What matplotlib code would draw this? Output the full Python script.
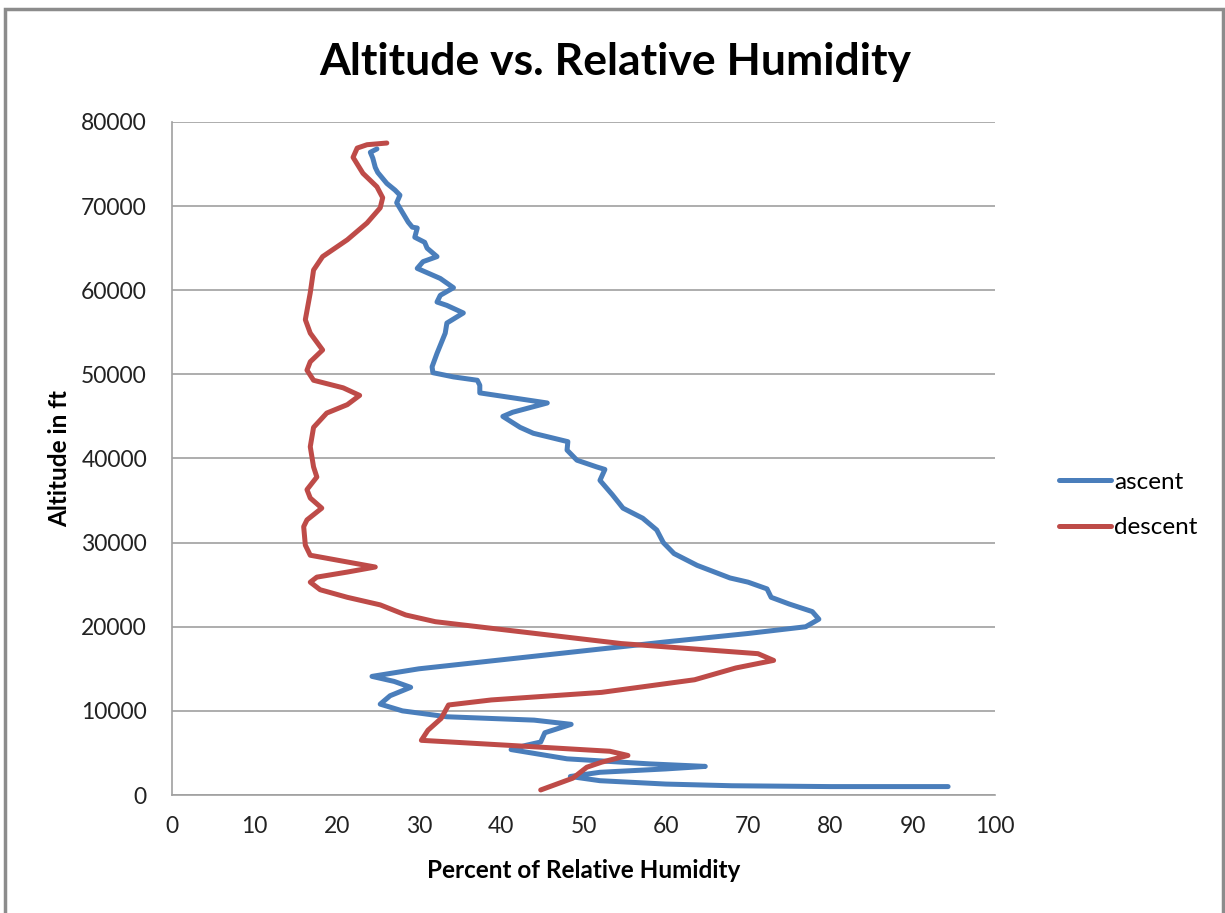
import matplotlib.pyplot as plt
from matplotlib.patches import Rectangle

# ascent: (relative humidity %, altitude ft), bottom to top
ascent_rh = [94.3, 80.0, 68.0, 60.0, 52.0, 48.4, 52.0, 60.0, 64.8, 58.0, 48.0, 41.2, 43.0, 44.8,
             45.3, 48.5, 44.0, 33.4, 28.0, 25.3, 26.5, 29.0, 27.0, 24.3, 30.0, 45.0, 60.0, 70.0,
             77.0, 78.6, 77.8, 75.0, 72.8, 72.3, 70.0, 67.8, 63.8, 61.0, 59.7, 58.9, 57.2, 54.8,
             53.5, 52.0, 52.6, 51.6, 49.2, 48.0, 48.1, 43.9, 42.3, 40.2, 41.4, 45.6, 41.5, 37.4,
             37.4, 37.1, 34.2, 31.7, 31.6, 32.2, 33.2, 33.4, 35.4, 33.4, 32.2, 32.6, 34.2, 32.6,
             29.8, 30.5, 32.2, 31.0, 30.7, 29.5, 29.8, 29.2, 28.7, 27.3, 27.7, 27.1, 26.1, 25.0,
             24.7, 24.4, 24.1, 24.9]
ascent_alt = [1000, 1000, 1100, 1300, 1700, 2200, 2700, 3100, 3400, 3700, 4300, 5400, 5900, 6300,
              7400, 8400, 8900, 9300, 10000, 10800, 11800, 12800, 13500, 14100, 15000, 16600, 18200, 19200,
              20000, 20900, 21800, 22700, 23500, 24500, 25300, 25800, 27300, 28700, 30000, 31500, 32900, 34100,
              35700, 37400, 38700, 39000, 39800, 41000, 42000, 43000, 43700, 45000, 45500, 46600, 47200, 47800,
              48700, 49300, 49700, 50200, 50900, 52500, 54900, 56100, 57300, 58200, 58600, 59400, 60300, 61400,
              62600, 63400, 64000, 65000, 65700, 66300, 67400, 67500, 68100, 70400, 71300, 71900, 72700, 74000,
              74600, 75700, 76400, 76800]

# descent: (relative humidity %, altitude ft), bottom to top
descent_rh = [44.8, 48.7, 50.4, 52.2, 55.4, 53.2, 41.0, 30.3, 31.1, 32.7, 33.6, 38.8, 52.2, 63.5,
              68.5, 73.1, 71.2, 54.6, 43.3, 32.0, 28.4, 25.3, 21.3, 18.0, 16.8, 17.6, 21.3, 24.7,
              21.3, 16.8, 16.2, 16.0, 16.4, 18.2, 16.8, 16.4, 17.6, 17.2, 16.8, 17.2, 18.8, 21.3,
              22.8, 20.8, 17.2, 16.4, 16.8, 18.3, 16.8, 16.2, 16.8, 17.2, 18.3, 21.3, 23.7, 25.3,
              25.6, 24.9, 23.2, 22.0, 22.5, 23.7, 26.1]
descent_alt = [600, 2000, 3300, 3900, 4700, 5200, 5900, 6500, 7700, 9100, 10700, 11300, 12200, 13700,
               15100, 16000, 16800, 18000, 19300, 20600, 21400, 22600, 23500, 24400, 25300, 25900, 26500, 27100,
               27700, 28500, 29700, 31900, 32700, 34100, 35300, 36300, 37800, 39000, 41400, 43700, 45400, 46400,
               47500, 48400, 49300, 50500, 51500, 52900, 54900, 56500, 59700, 62400, 64000, 66000, 68000, 69800,
               71000, 72300, 73900, 75800, 76900, 77300, 77500]

x_ticks = [0, 10, 20, 30, 40, 50, 60, 70, 80, 90, 100]
y_ticks = [0, 10000, 20000, 30000, 40000, 50000, 60000, 70000, 80000]

plt.rcParams['font.family'] = ['Lato', 'DejaVu Sans']

fig = plt.figure(figsize=(12.25, 9.13), dpi=100)
ax = fig.add_axes([172 / 1225, 1 - 795 / 913, 823 / 1225, 673 / 913])

ax.plot(ascent_rh, ascent_alt, color='#4a7ebb', lw=3.6, label='ascent', solid_capstyle='round')
ax.plot(descent_rh, descent_alt, color='#be4b48', lw=3.6, label='descent', solid_capstyle='round')

ax.set_xlim(0, 100)
ax.set_ylim(0, 80000)
ax.set_xticks(x_ticks)
ax.set_yticks(y_ticks)
ax.tick_params(length=0, labelsize=16.5, colors='#222222')
ax.tick_params(axis='y', pad=18)
ax.tick_params(axis='x', pad=15)
ax.grid(axis='y', color='#a0a0a0', lw=1.2)
ax.set_axisbelow(True)
for s in ['top', 'right']:
    ax.spines[s].set_visible(False)
for s in ['left', 'bottom']:
    ax.spines[s].set_color('#a0a0a0')
    ax.spines[s].set_linewidth(1.2)

ax.set_xlabel('Percent of Relative Humidity', fontsize=17.5, fontweight='bold', labelpad=16)
ax.set_ylabel('Altitude in ft', fontsize=17.5, fontweight='bold', labelpad=7)
fig.text(615 / 1225, 1 - 62 / 913, 'Altitude vs. Relative Humidity', fontsize=32,
         fontweight='bold', ha='center', va='center')

ax.legend(loc='center left', bbox_to_anchor=(1047 / 1225, 1 - 505 / 913),
          bbox_transform=fig.transFigure, frameon=False, fontsize=17.5, borderpad=0,
          handlelength=2.15, handletextpad=0.12, labelspacing=1.0)

fig.patches.append(Rectangle((5 / 1225, -0.01), 1218 / 1225, 1 - 9 / 913 + 0.01,
                             transform=fig.transFigure, fill=False, ec='#8c8c8c', lw=2.5))

fig.savefig('out.png', dpi=100)
